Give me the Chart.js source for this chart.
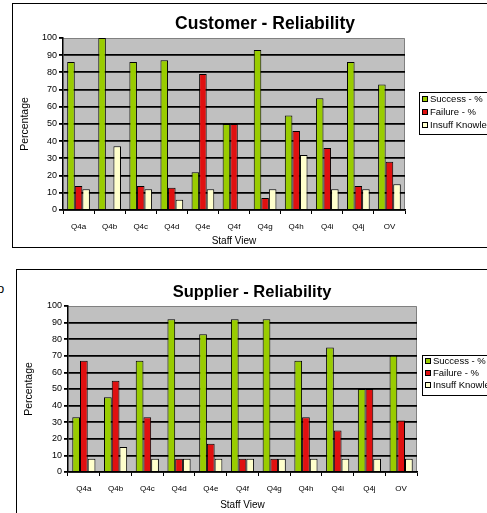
<!DOCTYPE html>
<html><head><meta charset="utf-8">
<script src="https://cdn.jsdelivr.net/npm/chart.js@4.4.1/dist/chart.umd.min.js"></script>
<style>
html,body{margin:0;padding:0;background:#fff;overflow:hidden;width:487px;height:513px;position:relative}
.box{position:absolute;border:1px solid #000;box-sizing:border-box}
.wrap{position:absolute}
.stray{position:absolute;left:-3px;top:281px;font:13px 'Liberation Sans',Arial,sans-serif;color:#000}
</style></head><body>
<div class="box" style="left:12px;top:3px;width:530px;height:245px"></div>
<div class="box" style="left:16px;top:269px;width:530px;height:270px"></div>
<div class="stray">o</div>
<div class="wrap" style="left:12px;top:3px"><canvas id="c1" width="506" height="244"></canvas></div>
<div class="wrap" style="left:16px;top:269px"><canvas id="c2" width="472" height="244"></canvas></div>
<script>
const categories = ['Q4a','Q4b','Q4c','Q4d','Q4e','Q4f','Q4g','Q4h','Q4i','Q4j','OV'];
const seriesLabels = ['Success - %','Failure - %','Insuff Knowledge'];
const customerSuccess = [86,100,86,87,22,50,93,55,65,86,73];
const customerFailure = [14,0,14,13,79,50,7,46,36,14,28];
const customerInsuff  = [12,37,12,6,12,0,12,32,12,12,15];
const supplierSuccess = [33,45,67,92,83,92,92,67,75,50,70];
const supplierFailure = [67,55,33,8,17,8,8,33,25,50,31];
const supplierInsuff  = [8,15,8,8,8,8,8,8,8,8,8];
const yMin = 0, yMax = 100, yStep = 10;

const FONT = "'Liberation Sans', Arial, sans-serif";
const colors = ['#99cc00','#e01010','#ffffcc'];

const decor = {
  id: 'decor',
  beforeDraw(chart) {
    const {ctx, chartArea: a} = chart;
    ctx.save();
    ctx.fillStyle = '#c0c0c0';
    ctx.fillRect(a.left, a.top, a.right - a.left, a.bottom - a.top);
    ctx.strokeStyle = '#808080';
    ctx.lineWidth = 1;
    ctx.beginPath();
    ctx.moveTo(a.left, a.top + 0.5);
    ctx.lineTo(a.right - 0.5, a.top + 0.5);
    ctx.lineTo(a.right - 0.5, a.bottom);
    ctx.stroke();
    ctx.restore();
  },
  afterDraw(chart, args, opts) {
    const {ctx} = chart;
    const L = opts.legend;
    ctx.save();
    ctx.fillStyle = '#fff';
    ctx.fillRect(L.x, L.y, L.w, L.h);
    ctx.strokeStyle = '#000';
    ctx.lineWidth = 1;
    ctx.strokeRect(L.x + 0.5, L.y + 0.5, L.w, L.h);
    ctx.font = '9.5px ' + FONT;
    ctx.textBaseline = 'middle';
    chart.data.datasets.forEach((ds, i) => {
      const cy = L.y + L.row0 + i * L.gap;
      ctx.fillStyle = ds.backgroundColor;
      ctx.fillRect(L.x + 3, cy - 3, 6, 6);
      ctx.strokeStyle = '#000';
      ctx.strokeRect(L.x + 3.5, cy - 2.5, 5, 5);
      ctx.fillStyle = '#000';
      ctx.fillText(ds.label, L.x + 11, cy);
    });
    ctx.restore();
  }
};

function makeChart(id, titleText, s, f, k, g) {
  return new Chart(document.getElementById(id), {
    type: 'bar',
    data: {
      labels: categories,
      datasets: [s, f, k].map((d, i) => ({
        label: seriesLabels[i],
        data: d,
        backgroundColor: colors[i],
        borderColor: '#000',
        borderWidth: 1,
        barPercentage: 1,
        categoryPercentage: 0.73
      }))
    },
    options: {
      responsive: false,
      animation: false,
      layout: {padding: 0},
      plugins: {
        legend: {display: false},
        tooltip: {enabled: false},
        title: {
          display: true, text: titleText, color: '#000',
          font: {family: FONT, size: g.titleSize, weight: 'bold', lineHeight: 1.2},
          padding: {top: g.titleTop, bottom: g.titleBottom}
        },
        decor: {legend: g.legend}
      },
      scales: {
        x: {
          grid: {display: true, drawOnChartArea: false, drawTicks: true, tickLength: 4, color: '#000', lineWidth: 1},
          border: {display: true, color: '#000', width: 1.5},
          ticks: {color: '#000', font: {family: FONT, size: 8}, padding: 8, maxRotation: 0, autoSkip: false},
          title: {display: true, text: 'Staff View', color: '#000', font: {family: FONT, size: 10}, padding: {top: 0, bottom: g.xTitleBottom}},
          afterFit(sc) { sc.height = g.xHeight; }
        },
        y: {
          min: yMin, max: yMax,
          grid: {
            color: c => (c.tick && c.tick.value === yMax) ? 'rgba(0,0,0,0)' : '#000',
            tickColor: '#000', lineWidth: 1.8, drawTicks: true, tickLength: 4
          },
          border: {display: true, color: '#000', width: 1.5},
          ticks: {stepSize: yStep, color: '#000', font: {family: FONT, size: 9}, padding: 2},
          title: {display: true, text: 'Percentage', color: '#000', font: {family: FONT, size: 10.5}, padding: {top: 6.7, bottom: 0}},
          afterFit(sc) { sc.width = g.yWidth; }
        },
        yR: {
          position: 'right', display: true,
          grid: {display: false}, border: {display: false}, ticks: {display: false},
          afterFit(sc) { sc.width = g.rightWidth; }
        }
      }
    },
    plugins: [decor]
  });
}

makeChart('c1', 'Customer - Reliability', customerSuccess, customerFailure, customerInsuff, {
  titleSize: 17.5, titleTop: 10.5, titleBottom: 3.5, xHeight: 37, xTitleBottom: 0, yWidth: 51,
  rightWidth: 113, legend: {x: 407, y: 89, w: 110, h: 42, row0: 7, gap: 13}
});
makeChart('c2', 'Supplier - Reliability', supplierSuccess, supplierFailure, supplierInsuff, {
  titleSize: 16.5, titleTop: 13.1, titleBottom: 4.1, xHeight: 41, xTitleBottom: 2, yWidth: 52,
  rightWidth: 71, legend: {x: 406, y: 86, w: 110, h: 40, row0: 6, gap: 12}
});
</script>
</body></html>
